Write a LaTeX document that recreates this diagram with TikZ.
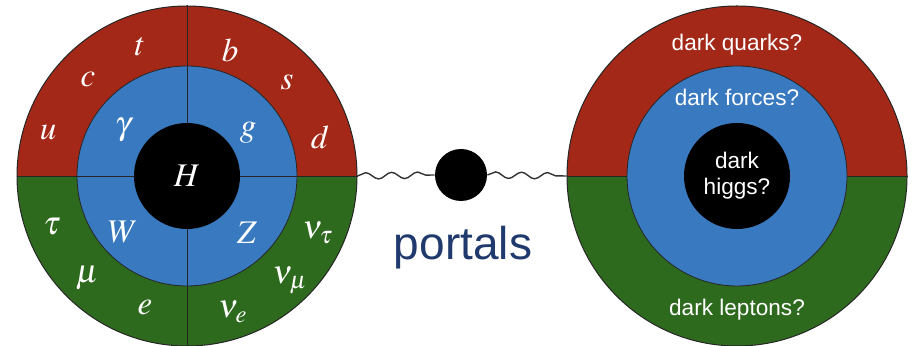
\documentclass[tikz,border=0pt]{standalone}
\usepackage{mathptmx}
\usepackage{fontspec}
\usepackage{tikz}
\usetikzlibrary{decorations.pathmorphing}
\newfontfamily\darkfont{Liberation Sans}
\definecolor{smred}{RGB}{164,40,24}
\definecolor{smblue}{RGB}{56,121,191}
\definecolor{smgreen}{RGB}{46,106,30}
\definecolor{portalblue}{RGB}{32,58,110}

\begin{document}
\begin{tikzpicture}[x=0.5pt, y=0.5pt,
    outer/.style={
        circle,
        draw=black!85,
        line width=0.5pt,
        inner sep=0pt,
        minimum size=170pt,
        path picture={
            \fill[smred] (path picture bounding box.west) rectangle (path picture bounding box.north east);
            \fill[smgreen] (path picture bounding box.west) rectangle (path picture bounding box.south east);
        }
    },
    middle/.style={
        circle,
        draw=black!85,
        line width=0.4pt,
        fill=smblue,
        inner sep=0pt,
        minimum size=110pt
    },
    core/.style={
        circle,
        fill=black,
        inner sep=0pt,
        minimum size=53pt,
        text=white,
        align=center
    },
    particle/.style={text=white, font=\fontsize{16.5}{16.5}\selectfont},
    darklabel/.style={text=white, font=\darkfont\fontsize{11.3}{12.5}\selectfont, align=center},
    wave/.style={black!80, line width=0.7pt, decorate,
        decoration={snake, segment length=13pt, amplitude=1.6pt}}]

    \useasboundingbox (0,0) rectangle (913,346);

    % Standard model circle
    \node[outer] (sm) at (187,170) {};
    \node[middle] (smmid) at (sm.center) {};
    \draw[black!85, line width=0.4pt] (sm.north) -- (sm.south);
    \draw[black!85, line width=0.4pt] (sm.west) -- (sm.east);
    \node[core] (smcore) at (sm.center) {};
    \node[particle] (H) at (sm.center) {$H$};

    % quarks
    \node[particle] (u) at (48,213) {$u$};
    \node[particle] (c) at (88,266) {$c$};
    \node[particle] (t) at (140,299) {$t$};
    \node[particle] (b) at (230,296) {$b$};
    \node[particle] (s) at (287,264) {$s$};
    \node[particle] (d) at (320,209) {$d$};

    % forces
    \node[particle] (gamma) at (123,216) {$\gamma$};
    \node[particle] (g) at (248,213) {$g$};
    \node[particle] (W) at (123,114) {$W$};
    \node[particle] (Z) at (247,113) {$Z$};

    % leptons
    \node[particle] (tau) at (52,119) {$\tau$};
    \node[particle] (mu) at (87,68) {$\mu$};
    \node[particle] (e) at (145,38) {$e$};
    \node[particle] (nutau) at (318,113) {$\nu_\tau$};
    \node[particle] (numu) at (290,66) {$\nu_\mu$};
    \node[particle] (nue) at (233,34) {$\nu_e$};

    % Dark sector circle
    \node[outer] (dark) at (737,170) {};
    \draw[black!85, line width=0.4pt] (dark.west) -- (dark.east);
    \node[middle] (darkmid) at (dark.center) {};
    \node[core, font=\darkfont\fontsize{11.3}{13}\selectfont] (darkcore) at (dark.center) {dark\\higgs?};
    \node[darklabel] (quarks) at (737,301) {dark quarks?};
    \node[darklabel] (forces) at (737,249) {dark forces?};
    \node[darklabel] (leptons) at (737,36) {dark leptons?};

    % Portal between the two
    \node[circle, fill=black, inner sep=0pt, minimum size=26pt] (portal) at (461,171) {};
    \node[text=portalblue, font=\darkfont\fontsize{23}{23}\selectfont] (portals) at (463,98) {portals};
    \draw[wave] (sm.east) -- (portal.west);
    \draw[wave] (portal.east) -- (dark.west);

\end{tikzpicture}
\end{document}
